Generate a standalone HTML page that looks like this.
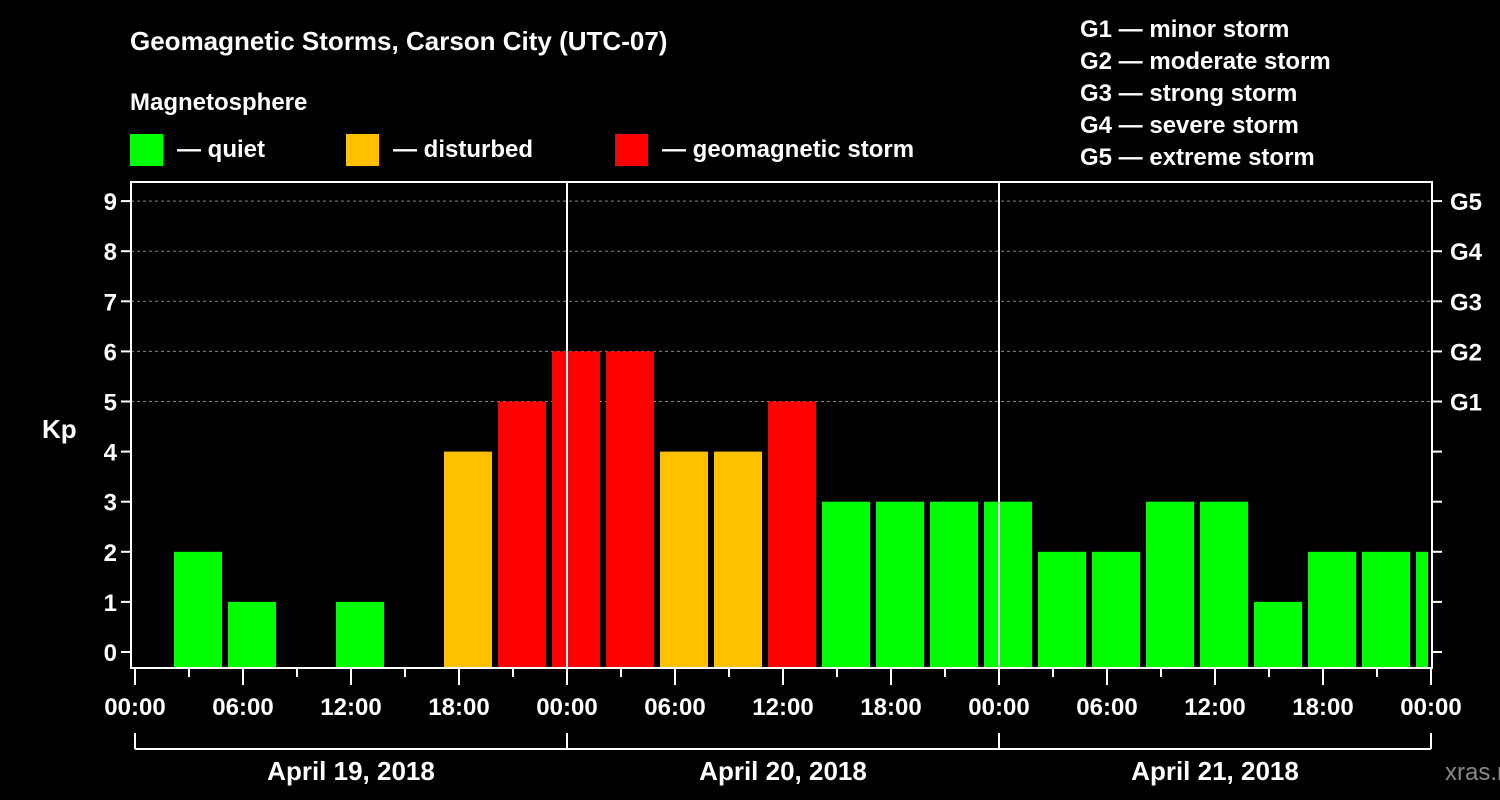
<!DOCTYPE html>
<html><head><meta charset="utf-8"><style>
html,body{margin:0;padding:0;background:#000;}
svg{display:block;font-family:"Liberation Sans",Arial,sans-serif;font-weight:bold;}
</style></head><body>
<svg id="chart" width="1500" height="800" viewBox="0 0 1500 800">
<rect width="1500" height="800" fill="#000"/>
<text x="130" y="50" fill="#fff" font-size="26">Geomagnetic Storms, Carson City (UTC-07)</text>
<text x="130" y="110" fill="#fff" font-size="24">Magnetosphere</text>
<g><rect x="130" y="134" width="33" height="32" fill="#00ff00"/><text x="177" y="157" fill="#fff" font-size="24">— quiet</text></g>
<g><rect x="346" y="134" width="33" height="32" fill="#ffc000"/><text x="393" y="157" fill="#fff" font-size="24">— disturbed</text></g>
<g><rect x="615" y="134" width="33" height="32" fill="#ff0000"/><text x="662" y="157" fill="#fff" font-size="24">— geomagnetic storm</text></g>
<g fill="#fff" font-size="24">
<text x="1080" y="37">G1 — minor storm</text>
<text x="1080" y="69">G2 — moderate storm</text>
<text x="1080" y="101">G3 — strong storm</text>
<text x="1080" y="133">G4 — severe storm</text>
<text x="1080" y="165">G5 — extreme storm</text>
</g>
<text x="42" y="438" fill="#fff" font-size="26">Kp</text>
<text x="1445" y="780" fill="#888" font-size="24" font-weight="normal">xras.ru</text>
<g id="grid"></g><g id="bars"></g><g id="axes"></g>
</svg>
<script>
const kpValues=[2,1,0,1,0,4,5,6,6,4,4,5,3,3,3,3,2,2,3,3,1,2,2,2];
const yTicks=[0,1,2,3,4,5,6,7,8,9];
const gLabels=["G1","G2","G3","G4","G5"];
const xLabels=["00:00","06:00","12:00","18:00","00:00","06:00","12:00","18:00","00:00","06:00","12:00","18:00","00:00"];
const dayLabels=["April 19, 2018","April 20, 2018","April 21, 2018"];
const NS="http://www.w3.org/2000/svg";
const L=131,R=1432,T=182,B=668,X0=135,PXH=18;
const y=v=>652-50.1*v;
const x=h=>X0+h*PXH;
function mk(tag,attrs,parent,text){const e=document.createElementNS(NS,tag);for(const k in attrs)e.setAttribute(k,attrs[k]);if(text!==undefined)e.textContent=text;parent.appendChild(e);return e;}
const grid=document.getElementById('grid'),bars=document.getElementById('bars'),axes=document.getElementById('axes');
function col(v){return v>=5?"#ff0000":v>=4?"#ffc000":"#00ff00";}
kpValues.forEach((v,i)=>{if(v<=0)return;const s=2+3*i;const x1=x(s)+3;let x2=x(s+3)-3;x2=Math.min(x2,R-4);
const r=mk('rect',{x:x1,y:y(v),width:x2-x1,height:B-y(v),fill:col(v)},bars);

});
yTicks.forEach(v=>{
 if(v>=5){const g=mk('line',{x1:L,x2:R,y1:y(v),y2:y(v),stroke:"#888","stroke-dasharray":"3,3","stroke-width":1},grid);
 
 
 const gl=mk('text',{x:1450,y:y(v)+9,fill:"#fff","font-size":24},axes,gLabels[v-5]);
 
 }
 mk('line',{x1:L-10,x2:L,y1:y(v),y2:y(v),stroke:"#fff","stroke-width":2},axes);
 mk('line',{x1:R,x2:R+10,y1:y(v),y2:y(v),stroke:"#fff","stroke-width":2},axes);
 const t=mk('text',{x:L-14,y:y(v)+9,fill:"#fff","font-size":24,"text-anchor":"end"},axes,String(v));
 
 
});
mk('rect',{x:L,y:T,width:R-L,height:B-T,fill:"none",stroke:"#fff","stroke-width":2},axes);
[24,48].forEach(h=>mk('line',{x1:x(h),x2:x(h),y1:T,y2:B,stroke:"#fff","stroke-width":2},axes));
for(let h=0;h<=72;h+=3){const major=h%6===0;mk('line',{x1:x(h),x2:x(h),y1:B,y2:major?B+17:B+9,stroke:"#fff","stroke-width":2},axes);}
xLabels.forEach((s,i)=>{const t=mk('text',{x:x(i*6),y:715,fill:"#fff","font-size":24,"text-anchor":"middle"},axes,s);

});
mk('line',{x1:x(0),x2:x(72),y1:749,y2:749,stroke:"#fff","stroke-width":2},axes);
[0,24,48,72].forEach(h=>mk('line',{x1:x(h),x2:x(h),y1:733,y2:749,stroke:"#fff","stroke-width":2},axes));
dayLabels.forEach((s,i)=>{const t=mk('text',{x:x(i*24+12),y:780,fill:"#fff","font-size":26,"text-anchor":"middle"},axes,s);

});
</script>
</body></html>
